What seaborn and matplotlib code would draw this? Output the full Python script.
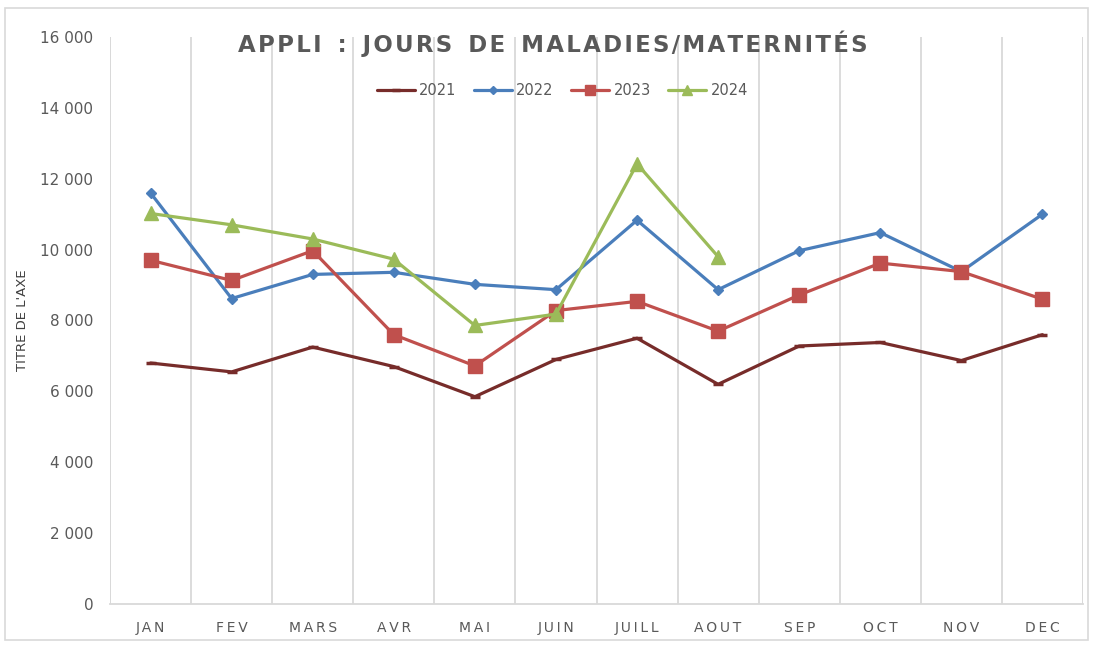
import matplotlib.pyplot as plt
import matplotlib.patches as mpatches
from matplotlib.ticker import FuncFormatter, MultipleLocator
import numpy as np
import pandas as pd
import seaborn as sns


months = ['JAN', 'FEV', 'MARS', 'AVR', 'MAI', 'JUIN', 'JUILL', 'AOUT', 'SEP', 'OCT', 'NOV', 'DEC']
years = ['2021', '2022', '2023', '2024']

v2021 = [6800, 6550, 7250, 6700, 5850, 6900, 7500, 6200, 7280, 7380, 6870, 7600]
v2022 = [11600, 8620, 9300, 9360, 9020, 8870, 10830, 8870, 9970, 10480, 9380, 11000]
v2023 = [9700, 9130, 9970, 7600, 6720, 8280, 8540, 7700, 8720, 9620, 9380, 8600]
v2024 = [11020, 10700, 10300, 9730, 7860, 8180, 12420, 9800, np.nan, np.nan, np.nan, np.nan]

colors = {'2021': '#772C2A', '2022': '#4A7EBB', '2023': '#C0504D', '2024': '#9BBB59'}
markers = {'2021': '_', '2022': 'D', '2023': 's', '2024': '^'}
msizes = {'2021': 7, '2022': 5.5, '2023': 9.5, '2024': 9.5}

grey = '#595959'

df = pd.DataFrame({
    'mois': list(range(12)) * 4,
    'annee': [y for y in years for _ in range(12)],
    'jours': v2021 + v2022 + v2023 + v2024,
})

sns.set_style('white')
plt.rcParams['font.family'] = ['DejaVu Sans']

fig = plt.figure(figsize=(10.93, 6.45), dpi=100)
ax = fig.add_axes([110 / 1093, 1 - 604 / 645, (1083 - 110) / 1093, (604 - 37) / 645])

# outer chart border
fig.patches.append(mpatches.Rectangle((5 / 1093, 5 / 645), 1083 / 1093, 632 / 645,
                                      transform=fig.transFigure, fill=False,
                                      edgecolor='#D9D9D9', linewidth=1.2, zorder=0))

handles = []
for y in years:
    sub = df[df['annee'] == y].dropna()
    sns.lineplot(data=sub, x='mois', y='jours', ax=ax, color=colors[y],
                 linewidth=2.3, marker=markers[y], markersize=msizes[y],
                 markeredgecolor=colors[y], markeredgewidth=2.5 if y == '2021' else 1,
                 zorder=3, label=y, legend=False)
    handles.append(ax.lines[-1])

ax.set_xlim(-0.5, 11.5)
ax.set_ylim(0, 16000)
ax.set_xticks(range(12))
ax.set_xticklabels(['\u2009'.join(m) for m in months])
ax.xaxis.set_minor_locator(MultipleLocator(1, offset=0.5))
ax.yaxis.set_major_locator(MultipleLocator(2000))
ax.yaxis.set_major_formatter(FuncFormatter(lambda v, p: f'{int(v):,}'.replace(',', ' ')))

ax.grid(False)
ax.grid(True, which='minor', axis='x', color='#D9D9D9', linewidth=1.3)
ax.axvline(-0.5, color='#D9D9D9', linewidth=1.3)
ax.axvline(11.5, color='#D9D9D9', linewidth=1.3)
for s in ['top', 'left', 'right']:
    ax.spines[s].set_visible(False)
ax.spines['bottom'].set_color('#D9D9D9')
ax.spines['bottom'].set_linewidth(1.3)

ax.tick_params(axis='x', which='both', length=0, pad=12, labelsize=10, labelcolor=grey)
ax.tick_params(axis='y', length=0, pad=12, labelsize=11, labelcolor=grey)
ax.set_xlabel('')
ax.set_ylabel("TITRE DE L'AXE", fontsize=9.5, color='#404040', labelpad=12)
ax.yaxis.set_label_coords(-0.083, 0.5)

title_words = ['APPLI', ':', 'JOURS', 'DE', 'MALADIES/MATERNITÉS']
title = '  '.join('\u200a'.join(w) for w in title_words)
fig.text(553 / 1093, 1 - 44 / 645, title, ha='center', va='center',
         fontsize=16.5, fontweight='bold', color=grey)

leg = ax.legend(handles=handles, labels=years, loc='center', bbox_to_anchor=(0.465, 0.905),
                ncol=4, frameon=False, fontsize=10.5, handlelength=2.6, columnspacing=1.2,
                handletextpad=0.3, markerscale=0.8)
for t in leg.get_texts():
    t.set_color(grey)

fig.savefig('out.png', dpi=100)
